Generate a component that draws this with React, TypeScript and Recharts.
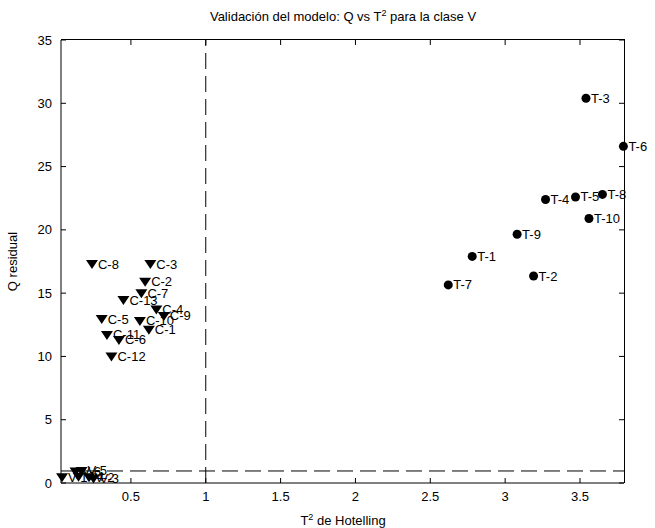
import { ScatterChart, Scatter, XAxis, YAxis, ReferenceLine } from "recharts"

const FONT = '"Liberation Sans", Arial, Helvetica, sans-serif'

// clase T (fuera de la clase)
const tLabels = ["T-1", "T-2", "T-3", "T-4", "T-5", "T-6", "T-7", "T-8", "T-9", "T-10"]
const tT2 = [2.78, 3.19, 3.54, 3.27, 3.47, 3.79, 2.62, 3.65, 3.08, 3.56]
const tQ = [17.9, 16.35, 30.4, 22.4, 22.6, 26.6, 15.65, 22.8, 19.65, 20.9]

// clase C
const cLabels = ["C-1", "C-2", "C-3", "C-4", "C-5", "C-6", "C-7", "C-8", "C-9", "C-10", "C-11", "C-12", "C-13"]
const cT2 = [0.62, 0.595, 0.63, 0.67, 0.305, 0.42, 0.57, 0.24, 0.72, 0.56, 0.34, 0.37, 0.45]
const cQ = [12.1, 15.9, 17.3, 13.7, 12.95, 11.3, 15.0, 17.3, 13.2, 12.8, 11.7, 10.0, 14.45]

// clase V
const vLabels = ["V-1", "V-2", "V-3", "V-4", "V-5", "V-6"]
const vT2 = [0.04, 0.22, 0.25, 0.15, 0.17, 0.13]
const vQ = [0.45, 0.45, 0.35, 0.5, 0.95, 0.9]

const xTicks = [0.5, 1, 1.5, 2, 2.5, 3, 3.5]
const yTicks = [0, 5, 10, 15, 20, 25, 30, 35]
const xDomain = [0.033, 3.794]
const yDomain = [0, 35]
const qLimit = 0.95
const t2Limit = 1

// caja del gráfico (debe coincidir con los márgenes del ScatterChart)
const W = 655
const H = 528
const box = { left: 61, top: 40, right: 624, bottom: 483 }

const toRows = (labels: string[], xs: number[], ys: number[]) =>
  labels.map((name, i) => ({ name, x: xs[i], y: ys[i] }))

const tData = toRows(tLabels, tT2, tQ)
const cData = toRows(cLabels, cT2, cQ)
const vData = toRows(vLabels, vT2, vQ)

const Dot = (props: any) => {
  const { cx, cy, payload } = props
  return (
    <g>
      <circle cx={cx} cy={cy} r={4.5} fill="#000" />
      <text x={cx + 5} y={cy} dominantBaseline="central" fontSize={13} fontFamily={FONT} fill="#000">
        {payload.name}
      </text>
    </g>
  )
}

const Tri = (props: any) => {
  const { cx, cy, payload } = props
  return (
    <g>
      <polygon points={`${cx - 6},${cy - 4} ${cx + 6},${cy - 4} ${cx},${cy + 5}`} fill="#000" />
      <text x={cx + 6} y={cy} dominantBaseline="central" fontSize={13} fontFamily={FONT} fill="#000">
        {payload.name}
      </text>
    </g>
  )
}

const tickStyle = { fontSize: 13, fontFamily: FONT, fill: "#000" }

// marcas espejo arriba y a la derecha (estilo MATLAB "box on")
const px = (v: number) => box.left + ((v - xDomain[0]) / (xDomain[1] - xDomain[0])) * (box.right - box.left)
const py = (v: number) => box.bottom - ((v - yDomain[0]) / (yDomain[1] - yDomain[0])) * (box.bottom - box.top)

export default function App() {
  return (
    <div style={{ position: "absolute", left: 0, top: 0, width: W, height: H, background: "#fff" }}>
      <ScatterChart
        width={W}
        height={H}
        margin={{ top: box.top, right: W - box.right, left: 0, bottom: 0 }}
      >
        <XAxis
          type="number"
          dataKey="x"
          domain={xDomain}
          ticks={xTicks}
          height={H - box.bottom}
          tickSize={-5}
          tickMargin={14}
          tick={tickStyle}
          stroke="#000"
        />
        <YAxis
          type="number"
          dataKey="y"
          domain={yDomain}
          ticks={yTicks}
          width={box.left}
          tickSize={-5}
          tickMargin={14}
          tick={tickStyle}
          stroke="#000"
          label={{ value: "Q residual", angle: -90, position: "insideLeft", offset: 12, style: { ...tickStyle, textAnchor: "middle" } }}
        />
        <ReferenceLine x={t2Limit} stroke="#000" strokeDasharray="16 7" />
        <ReferenceLine y={qLimit} stroke="#000" strokeDasharray="16 7" />
        <Scatter data={cData} shape={Tri} isAnimationActive={false} />
        <Scatter data={vData} shape={Tri} isAnimationActive={false} />
        <Scatter data={tData} shape={Dot} isAnimationActive={false} />
      </ScatterChart>
      <div
        style={{
          position: "absolute",
          left: box.left,
          top: box.top - 1,
          width: box.right - box.left,
          height: box.bottom - box.top,
          borderTop: "1px solid #000",
          borderRight: "1px solid #000",
          pointerEvents: "none",
        }}
      />
      <svg width={W} height={H} style={{ position: "absolute", left: 0, top: 0, pointerEvents: "none" }}>
        {xTicks.map((t) => (
          <rect key={`tx${t}`} x={px(t) - 0.5} y={box.top} width={1} height={5} fill="#000" />
        ))}
        {yTicks.map((t) => (
          <rect key={`ty${t}`} x={box.right - 5} y={py(t) - 0.5} width={5} height={1} fill="#000" />
        ))}
        <text x={343} y={21} textAnchor="middle" fontSize={13} fontFamily={FONT} fill="#000">
          Validación del modelo: Q vs T<tspan dy={-5} fontSize={9}>2</tspan>
          <tspan dy={5}> para la clase V</tspan>
        </text>
        <text x={343} y={525} textAnchor="middle" fontSize={13} fontFamily={FONT} fill="#000">
          T<tspan dy={-5} fontSize={9}>2</tspan>
          <tspan dy={5}> de Hotelling</tspan>
        </text>
      </svg>
    </div>
  )
}
